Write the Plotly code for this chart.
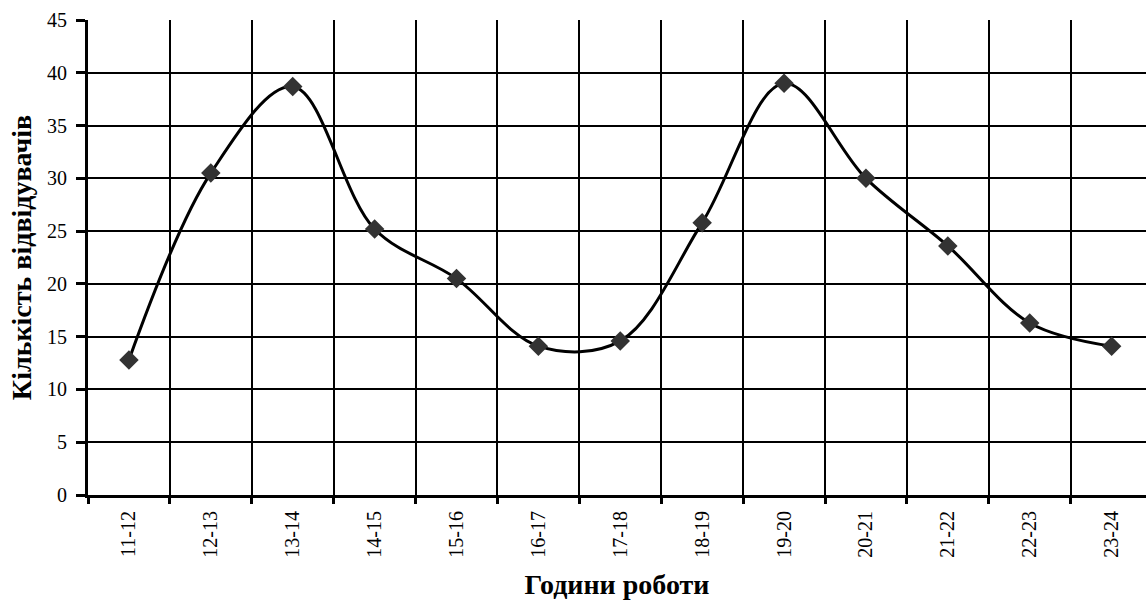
import plotly.graph_objects as go

# Hourly visitor counts
hours = ["11-12", "12-13", "13-14", "14-15", "15-16", "16-17", "17-18",
         "18-19", "19-20", "20-21", "21-22", "22-23", "23-24"]
visitors = [12.8, 30.5, 38.7, 25.2, 20.5, 14.1, 14.6, 25.8, 39.0, 30.0, 23.6, 16.3, 14.1]
y_ticks = [0, 5, 10, 15, 20, 25, 30, 35, 40, 45]

serif = "Liberation Serif, Times New Roman, serif"

fig = go.Figure(
    go.Scatter(
        x=hours,
        y=visitors,
        mode="lines+markers",
        line=dict(color="black", width=3, shape="spline", smoothing=1.0),
        marker=dict(symbol="diamond", size=15, color="#333333",
                    line=dict(width=0)),
        cliponaxis=False,
        showlegend=False,
    )
)

fig.update_layout(
    width=1146,
    height=600,
    margin=dict(l=88, r=0, t=20, b=105),
    paper_bgcolor="white",
    plot_bgcolor="white",
    font=dict(family=serif, size=20, color="black"),
)

fig.update_xaxes(
    type="category",
    range=[-0.5, 12.42],
    tickson="boundaries",
    ticks="outside",
    ticklen=6,
    tickwidth=3,
    tickcolor="black",
    tickangle=-90,
    ticklabelstandoff=5,
    showgrid=True,
    gridcolor="black",
    gridwidth=2,
    showline=True,
    linecolor="black",
    linewidth=3,
    tickfont=dict(family=serif, size=20),
    title=dict(text="<b>Години роботи</b>",
               font=dict(family=serif, size=28), standoff=18),
)

fig.update_yaxes(
    range=[0, 45],
    tickvals=y_ticks,
    ticks="outside",
    ticklen=9,
    tickwidth=3,
    tickcolor="black",
    ticklabelstandoff=5,
    showgrid=True,
    gridcolor="black",
    gridwidth=2,
    showline=True,
    linecolor="black",
    linewidth=3,
    zeroline=False,
    tickfont=dict(family=serif, size=20),
    title=dict(text="<b>Кількість відвідувачів</b>",
               font=dict(family=serif, size=28), standoff=8),
)

fig.write_html("out.html")
